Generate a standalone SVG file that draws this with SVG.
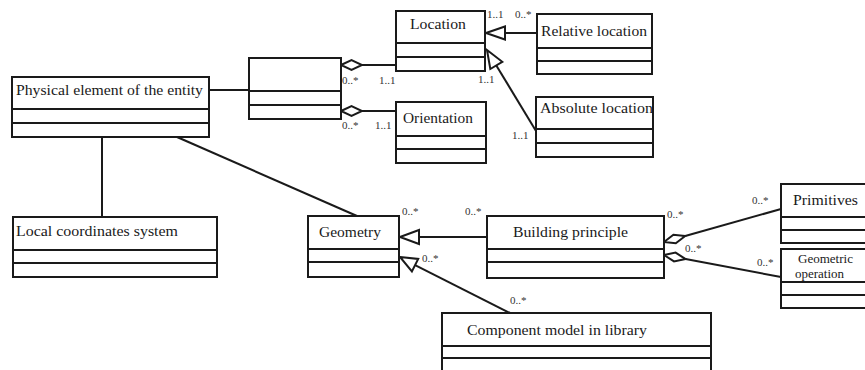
<svg xmlns="http://www.w3.org/2000/svg" width="865" height="370" viewBox="0 0 865 370">
<style>
.box{fill:#fff;stroke:#1a1a1a;stroke-width:2}
.div{stroke:#1a1a1a;stroke-width:2}
.ln{stroke:#1a1a1a;stroke-width:2;fill:none}
.hd{fill:#fff;stroke:#1a1a1a;stroke-width:2;stroke-linejoin:miter}
.t{font-family:"Liberation Serif","Times New Roman",serif;font-size:15px;fill:#1a1a1a}
.s{font-family:"Liberation Serif","Times New Roman",serif;font-size:11px;fill:#333}
</style>
<rect width="865" height="370" fill="#fff"/>
<g id="connectors">
<line class="ln" x1="209" y1="90" x2="249" y2="90"/>
<line class="ln" x1="102" y1="137" x2="102" y2="217"/>
<line class="ln" x1="177" y1="137" x2="357" y2="216"/>
<line class="ln" x1="362" y1="65" x2="396" y2="65"/>
<polygon class="hd" points="341,65 351.5,60 362,65 351.5,70"/>
<line class="ln" x1="362" y1="111" x2="396" y2="111"/>
<polygon class="hd" points="341,111 351.5,106 362,111 351.5,116"/>
<line class="ln" x1="537" y1="33" x2="505" y2="33"/>
<polygon class="hd" points="486,33 505,26.5 505,39.5"/>
<line class="ln" x1="536" y1="131" x2="496.3" y2="65.4"/>
<polygon class="hd" points="487,50 502.3,61.8 490.3,69"/>
<line class="ln" x1="487" y1="237" x2="419" y2="237"/>
<polygon class="hd" points="400,237 419,230 419,244"/>
<line class="ln" x1="510" y1="313" x2="415.1" y2="265.1"/>
<polygon class="hd" points="400,257 418.2,258.9 411.9,271.4"/>
<line class="ln" x1="685.2" y1="236" x2="781" y2="209"/>
<polygon class="hd" points="664,242 675.8,243.3 685.2,236 673.4,234.7"/>
<line class="ln" x1="685.6" y1="259.1" x2="781" y2="277"/>
<polygon class="hd" points="664,255 674,261.4 685.6,259.1 675.6,252.6"/>
<text class="s" x="342" y="84">0..*</text>
<text class="s" x="379" y="84">1..1</text>
<text class="s" x="342" y="129">0..*</text>
<text class="s" x="375" y="129">1..1</text>
<text class="s" x="487" y="18">1..1</text>
<text class="s" x="515" y="18">0..*</text>
<text class="s" x="478" y="83">1..1</text>
<text class="s" x="512" y="139">1..1</text>
<text class="s" x="402" y="215">0..*</text>
<text class="s" x="465" y="215">0..*</text>
<text class="s" x="422" y="262">0..*</text>
<text class="s" x="510" y="304">0..*</text>
<text class="s" x="667" y="218">0..*</text>
<text class="s" x="752" y="204">0..*</text>
<text class="s" x="685" y="252">0..*</text>
<text class="s" x="757" y="266">0..*</text>
</g>
<g id="physical">
<rect class="box" x="12" y="77" width="197" height="60"/>
<line class="div" x1="12" y1="109" x2="209" y2="109"/>
<line class="div" x1="12" y1="123" x2="209" y2="123"/>
<text class="t" x="16" y="95" textLength="187" lengthAdjust="spacingAndGlyphs">Physical element of the entity</text>
</g>
<g id="association">
<rect class="box" x="249" y="58" width="92" height="61"/>
<line class="div" x1="249" y1="91" x2="341" y2="91"/>
<line class="div" x1="249" y1="105" x2="341" y2="105"/>
</g>
<g id="location">
<rect class="box" x="396" y="11" width="89" height="60"/>
<line class="div" x1="396" y1="43" x2="485" y2="43"/>
<line class="div" x1="396" y1="57" x2="485" y2="57"/>
<text class="t" x="410" y="29" textLength="56" lengthAdjust="spacingAndGlyphs">Location</text>
</g>
<g id="orientation">
<rect class="box" x="396" y="102" width="90" height="61"/>
<line class="div" x1="396" y1="136" x2="486" y2="136"/>
<line class="div" x1="396" y1="149" x2="486" y2="149"/>
<text class="t" x="403" y="123" textLength="70" lengthAdjust="spacingAndGlyphs">Orientation</text>
</g>
<g id="relative">
<rect class="box" x="537" y="14" width="115" height="60"/>
<line class="div" x1="537" y1="48" x2="652" y2="48"/>
<line class="div" x1="537" y1="61" x2="652" y2="61"/>
<text class="t" x="541" y="36" textLength="106" lengthAdjust="spacingAndGlyphs">Relative location</text>
</g>
<g id="absolute">
<rect class="box" x="536" y="97" width="117" height="60"/>
<line class="div" x1="536" y1="129" x2="653" y2="129"/>
<line class="div" x1="536" y1="143" x2="653" y2="143"/>
<text class="t" x="540" y="113" textLength="113" lengthAdjust="spacingAndGlyphs">Absolute location</text>
</g>
<g id="local">
<rect class="box" x="13" y="217" width="204" height="60"/>
<line class="div" x1="13" y1="250" x2="217" y2="250"/>
<line class="div" x1="13" y1="263" x2="217" y2="263"/>
<text class="t" x="16" y="236" textLength="162" lengthAdjust="spacingAndGlyphs">Local coordinates system</text>
</g>
<g id="geometry">
<rect class="box" x="308" y="216" width="91" height="61"/>
<line class="div" x1="308" y1="249" x2="399" y2="249"/>
<line class="div" x1="308" y1="262" x2="399" y2="262"/>
<text class="t" x="319" y="237" textLength="62" lengthAdjust="spacingAndGlyphs">Geometry</text>
</g>
<g id="building">
<rect class="box" x="487" y="216" width="177" height="62"/>
<line class="div" x1="487" y1="249" x2="664" y2="249"/>
<line class="div" x1="487" y1="262" x2="664" y2="262"/>
<text class="t" x="513" y="237" textLength="115" lengthAdjust="spacingAndGlyphs">Building principle</text>
</g>
<g id="primitives">
<rect class="box" x="781" y="184" width="90" height="59"/>
<line class="div" x1="781" y1="217" x2="871" y2="217"/>
<line class="div" x1="781" y1="230" x2="871" y2="230"/>
<text class="t" x="793" y="205" textLength="65" lengthAdjust="spacingAndGlyphs">Primitives</text>
</g>
<g id="geomop">
<rect class="box" x="781" y="249" width="90" height="59"/>
<line class="div" x1="781" y1="282" x2="871" y2="282"/>
<line class="div" x1="781" y1="295" x2="871" y2="295"/>
<text class="t" x="798" y="263" style="font-size:12px" textLength="55" lengthAdjust="spacingAndGlyphs">Geometric</text>
<text class="t" x="795" y="278" style="font-size:12px" textLength="49" lengthAdjust="spacingAndGlyphs">operation</text>
</g>
<g id="component">
<rect class="box" x="442" y="313" width="269" height="70"/>
<line class="div" x1="442" y1="346" x2="711" y2="346"/>
<line class="div" x1="442" y1="358" x2="711" y2="358"/>
<text class="t" x="467" y="335" textLength="180" lengthAdjust="spacingAndGlyphs">Component model in library</text>
</g>
</svg>
